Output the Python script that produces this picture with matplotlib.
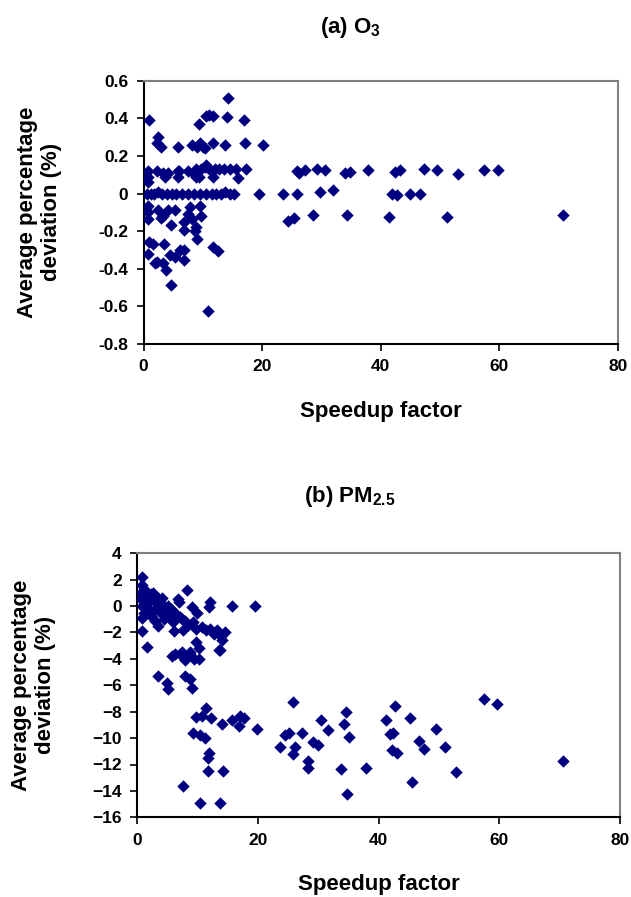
import matplotlib
matplotlib.use("Agg")
import matplotlib.pyplot as plt

plt.rcParams['font.family'] = ['Liberation Sans', 'DejaVu Sans']
plt.rcParams['font.weight'] = 'bold'
plt.rcParams['mathtext.fontset'] = 'custom'
plt.rcParams['mathtext.rm'] = 'Liberation Sans:bold'
plt.rcParams['mathtext.bf'] = 'Liberation Sans:bold'
plt.rcParams['mathtext.default'] = 'rm'

# ---------------- (a) O3 data ----------------
o3_x = [14.3, 0.9, 10.5, 11.7, 14.0, 17.0, 9.3, 11.0,
        2.5, 2.2, 3.0, 5.9, 8.1, 9.5, 10.4, 11.8, 13.7, 17.1, 20.1, 9.0, 10.0,
        0.8, 2.2, 3.3, 4.2, 5.9, 7.5, 8.9, 9.7, 10.3, 11.1, 12.0, 12.8, 13.6, 14.5, 15.6, 17.3, 10.5, 8.3, 6.0,
        15.9, 11.8, 9.3, 0.8, 0.8, 3.6, 5.8, 8.9,
        0.6, 1.2, 1.8, 2.5, 3.2, 4.0, 4.8, 5.5, 6.5, 7.5, 8.5, 9.5, 10.5, 11.5, 12.2, 13.0, 13.8, 14.5, 15.2,
        19.5, 23.6, 25.8, 29.8, 31.9, 41.9, 42.7, 44.9, 46.6,
        0.8, 0.8, 0.8, 2.4, 3.3, 4.1, 5.3, 3.0, 4.7,
        7.8, 9.5, 7.5, 8.1, 6.9, 9.7, 8.9, 8.6, 9.1, 6.9,
        24.4, 25.4, 28.5, 34.3, 41.4, 51.1, 70.8,
        1.0, 1.6, 3.5, 0.8, 2.2, 3.3, 3.8, 4.4, 5.3, 6.1, 6.9, 6.9, 4.7, 11.7, 12.6, 10.8, 2.0,
        25.8, 26.3, 27.2, 29.2, 30.6, 34.0, 34.8, 37.9, 42.4, 43.3, 47.3, 49.4, 53.0, 57.4, 59.7]
o3_y = [0.51, 0.39, 0.41, 0.41, 0.405, 0.39, 0.37, 0.42,
        0.30, 0.27, 0.25, 0.25, 0.26, 0.27, 0.24, 0.27, 0.26, 0.27, 0.26, 0.25, 0.25,
        0.12, 0.12, 0.11, 0.11, 0.12, 0.12, 0.13, 0.13, 0.14, 0.13, 0.13, 0.13, 0.13, 0.13, 0.13, 0.13, 0.15, 0.11, 0.12,
        0.08, 0.09, 0.09, 0.09, 0.06, 0.09, 0.09, 0.09,
        0.0, 0.0, 0.0, 0.01, 0.0, 0.0, 0.0, 0.0, 0.0, 0.0, 0.0, 0.0, 0.0, 0.0, 0.0, 0.0, 0.01, 0.0, 0.0,
        0.0, 0.0, 0.0, 0.006, 0.018, 0.0, -0.006, 0.0, 0.0,
        -0.065, -0.10, -0.135, -0.09, -0.12, -0.09, -0.09, -0.13, -0.165,
        -0.073, -0.064, -0.108, -0.135, -0.152, -0.122, -0.179, -0.20, -0.24, -0.196,
        -0.144, -0.131, -0.115, -0.115, -0.124, -0.124, -0.115,
        -0.26, -0.27, -0.27, -0.32, -0.364, -0.369, -0.407, -0.328, -0.337, -0.298, -0.302, -0.351, -0.487, -0.285, -0.306, -0.624, -0.37,
        0.12, 0.11, 0.125, 0.13, 0.124, 0.11, 0.115, 0.124, 0.115, 0.124, 0.13, 0.124, 0.106, 0.124, 0.124]

# ---------------- (b) PM2.5 data ----------------
pm_x = [0.8, 0.8, 0.6, 0.7, 0.9, 1.2, 1.5, 1.8, 2.0, 2.3, 2.6, 2.8, 3.0, 3.3, 3.6, 3.9, 4.1, 4.4, 4.8, 5.2,
        5.5, 5.8, 6.3, 6.9, 7.2, 8.0, 3.0, 3.5, 1.2, 2.5, 4.5, 6.0, 6.8, 8.3, 9.1, 9.9, 12.1, 12.0, 15.7, 19.6,
        0.8, 0.8, 1.7, 13.6,
        6.1, 7.7, 9.7, 10.8, 12.1, 13.2, 14.6, 14.1, 9.7, 10.2, 8.8, 6.3, 7.5, 13.8, 11.5, 12.8, 13.9, 8.5, 9.3, 7.5,
        5.8, 7.2, 8.8, 8.0, 9.4, 10.2, 3.5, 5.0, 5.2, 8.0, 8.8, 9.1,
        11.4, 9.8, 10.8, 12.3, 14.0, 15.7, 17.1, 17.7, 16.9, 19.9, 9.3, 10.5, 11.2, 12.0, 11.7, 11.7, 14.2, 7.7, 10.4, 13.7,
        25.9, 57.5, 59.6, 34.6, 42.8, 30.4, 41.2, 45.2, 34.3, 31.7, 27.3, 24.5, 25.2, 41.9, 42.4, 35.1, 49.5,
        29.1, 29.9, 46.7, 47.5, 26.2, 23.7, 25.9, 51.0, 42.3, 43.1, 28.4, 28.4, 33.8, 37.9, 52.9, 70.6, 45.5, 34.8]
pm_y = [2.2, 1.6, 1.0, 0.5, 0.0, 1.3, 0.8, 0.3, -0.2, 0.9, 1.0, 0.4, -0.3, 0.7, 0.2, -0.5, 0.6, 0.0, -0.4, 0.0,
        -0.8, -0.3, -0.55, 0.3, -0.8, -1.1, -1.1, -1.5, -0.5, -0.8, -1.0, -1.2, 0.5, 1.2, -0.05, -0.55, 0.3, -0.1, 0.0, 0.0,
        -0.9, -1.9, -3.1, -3.3,
        -1.9, -1.8, -1.7, -1.6, -1.7, -1.8, -2.0, -2.6, -2.7, -3.2, -3.5, -3.6, -3.5, -3.3, -1.8, -2.1, -2.3, -1.4, -1.2, -1.0,
        -3.8, -3.6, -3.6, -4.1, -4.0, -4.0, -5.3, -5.8, -6.3, -5.3, -5.5, -6.2,
        -7.75, -8.4, -8.3, -8.5, -8.9, -8.6, -8.3, -8.5, -9.1, -9.3, -9.6, -9.8, -10.0, -11.1, -11.5, -12.5, -12.5, -13.6, -14.95, -14.95,
        -7.3, -7.05, -7.4, -8.0, -7.6, -8.6, -8.6, -8.45, -8.9, -9.4, -9.6, -9.8, -9.6, -9.7, -9.6, -9.9, -9.3,
        -10.3, -10.5, -10.2, -10.8, -10.7, -10.7, -11.2, -10.7, -10.9, -11.1, -11.7, -12.3, -12.35, -12.25, -12.6, -11.7, -13.3, -14.2]

xticks = [0, 20, 40, 60, 80]
o3_yticks = [-0.8, -0.6, -0.4, -0.2, 0, 0.2, 0.4, 0.6]
o3_ylabels = ['-0.8', '-0.6', '-0.4', '-0.2', '0', '0.2', '0.4', '0.6']
pm_yticks = [-16, -14, -12, -10, -8, -6, -4, -2, 0, 2, 4]

W, H = 631, 897
fig = plt.figure(figsize=(W / 100, H / 100), dpi=100)

def box(l, t, r, b):
    return [l / W, 1 - b / H, (r - l) / W, (b - t) / H]

ax1 = fig.add_axes(box(143.5, 80.7, 618, 344))
ax2 = fig.add_axes(box(137, 553.3, 620, 817.3))

navy = '#000080'
ax1.scatter(o3_x, o3_y, marker='D', s=40, color=navy, linewidths=0, zorder=3)
ax2.scatter(pm_x, pm_y, marker='D', s=40, color=navy, linewidths=0, zorder=3)

ax1.set_xlim(0, 80)
ax1.set_ylim(-0.8, 0.6)
ax1.set_yticks(o3_yticks)
ax1.set_yticklabels(o3_ylabels)
ax2.set_xlim(0, 80)
ax2.set_ylim(-16, 4)
ax2.set_yticks(pm_yticks)

for ax in (ax1, ax2):
    ax.set_xticks(xticks)
    ax.tick_params(direction='out', length=5, width=1.2, labelsize=12.5, pad=6, color='black')
    for s in ('left', 'bottom'):
        ax.spines[s].set_color('black')
        ax.spines[s].set_linewidth(1.5)
    for s in ('top', 'right'):
        ax.spines[s].set_color('#808080')
        ax.spines[s].set_linewidth(1.5)
    for lab in ax.get_xticklabels() + ax.get_yticklabels():
        lab.set_fontweight('bold')
    ax.set_xlabel('Speedup factor', fontsize=16, fontweight='bold', labelpad=19)
    ax.set_ylabel('Average percentage\ndeviation (%)', fontsize=16, fontweight='bold', labelpad=26)

fig.text(350 / W, 1 - 28 / H, '(a) O$_{3}$', ha='center', va='center', fontsize=16, fontweight='bold')
fig.text(350 / W, 1 - 496 / H, '(b) PM$_{2.5}$', ha='center', va='center', fontsize=16, fontweight='bold')

fig.savefig('out.png', dpi=100)
